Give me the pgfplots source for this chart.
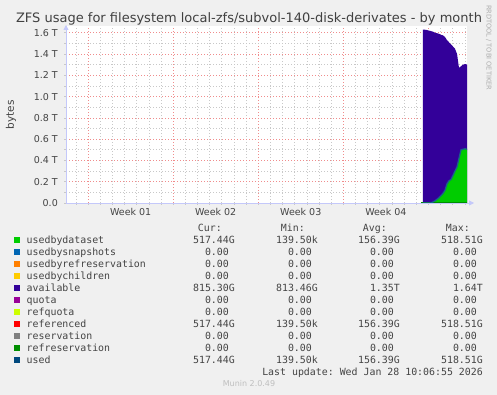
\documentclass[border=0pt]{standalone}
\usepackage{pgfplots}
\pgfplotsset{compat=1.18}
\usepackage{pgfplotstable}
\usepackage{fontspec}
\setmainfont{DejaVu Sans}
\setmonofont{DejaVu Sans Mono}
\usetikzlibrary{arrows.meta}
\definecolor{bgc}{HTML}{F0F0F0}
\definecolor{axc}{HTML}{C4C8FA}
\definecolor{mgrid}{HTML}{F08C8C}
\definecolor{ngrid}{HTML}{C8C8C8}
\definecolor{txt}{HTML}{444444}
\definecolor{cds}{HTML}{00CC00}
\definecolor{csnap}{HTML}{0066B3}
\definecolor{crefres}{HTML}{FF8000}
\definecolor{cchild}{HTML}{FFCC00}
\definecolor{cavail}{HTML}{330099}
\definecolor{cquota}{HTML}{990099}
\definecolor{crefq}{HTML}{CCFF00}
\definecolor{cref}{HTML}{FF0000}
\definecolor{cres}{HTML}{808080}
\definecolor{crefr}{HTML}{008F00}
\definecolor{cused}{HTML}{00487D}
\definecolor{cusedline}{HTML}{1A5E8C}

% day, usedbydataset (T), available (T)
\pgfplotstableread{
day   ds     av
29.37 0.000  1.630
29.54 0.000  1.628
29.70 0.000  1.625
29.87 0.000  1.620
30.03 0.000  1.615
30.20 0.010  1.600
30.36 0.020  1.580
30.53 0.035  1.560
30.69 0.050  1.540
30.86 0.070  1.510
31.02 0.090  1.485
31.19 0.120  1.440
31.35 0.180  1.350
31.52 0.210  1.300
31.68 0.220  1.270
31.85 0.260  1.210
32.01 0.300  1.150
32.18 0.340  1.060
32.34 0.420  0.850
32.51 0.500  0.785
32.67 0.505  0.795
32.84 0.510  0.795
33.00 0.505  0.796
}\zfsdata

\begin{document}
\begin{tikzpicture}[x=1pt,y=1pt]
\fill[bgc] (0,0) rectangle (497,395);
\begin{axis}[
  at={(66pt,192pt)}, anchor=origin,
  scale only axis, width=401pt, height=177pt,
  xmin=0, xmax=33, ymin=0, ymax=1.663,
  axis background/.style={fill=white},
  axis lines*=left,
  axis line style={draw=none},
  tick align=outside,
  major tick length=2pt, minor tick length=2pt,
  tick style={ngrid, line width=0.6pt},
  xtick={1.82,8.82,15.82,22.82,29.82},
  xticklabels={},
  minor xtick={0.82,2.82,3.82,4.82,5.82,6.82,7.82,9.82,10.82,11.82,12.82,13.82,14.82,16.82,17.82,18.82,19.82,20.82,21.82,23.82,24.82,25.82,26.82,27.82,28.82,30.82,31.82,32.82},
  extra x ticks={5.32,12.32,19.32,26.32},
  extra x tick labels={Week 01,Week 02,Week 03,Week 04},
  extra x tick style={grid=none, major tick length=0pt,
     xticklabel style={anchor=north, inner sep=0pt, yshift=-5.5pt}},
  ytick={0,0.2,0.4,0.6,0.8,1.0,1.2,1.4,1.6},
  yticklabels={0.0\hspace{6pt},0.2 T,0.4 T,0.6 T,0.8 T,1.0 T,1.2 T,1.4 T,1.6 T},
  minor ytick={0.1,0.3,0.5,0.7,0.9,1.1,1.3,1.5},
  yticklabel style={anchor=east, inner sep=0pt, xshift=-6pt},
  tick label style={font=\fontsize{9.5}{11}\selectfont, text=txt},
  grid=both,
  major grid style={mgrid, line width=0.6pt, dash pattern=on 1pt off 2pt},
  minor grid style={ngrid, line width=0.6pt, dash pattern=on 1pt off 2pt},
  clip=false,
]
% available stacked on top of usedbydataset (top edge = ds + av)
\addplot[draw=none, fill=cavail] table[x=day, y expr=\thisrow{ds}+\thisrow{av}] {\zfsdata} \closedcycle;
% usedbydataset
\addplot[draw=none, fill=cds] table[x=day, y=ds] {\zfsdata} \closedcycle;
% refreservation (0)
\addplot[crefr, line width=1pt] coordinates {(29.2,0) (33,0)};
% used line
\addplot[cusedline, line width=1.3pt] table[x=day, y=ds] {\zfsdata};
\end{axis}
% axis lines with arrows
\draw[axc, line width=0.8pt, -{Triangle[width=5pt,length=5pt]}] (66,192) -- (474,192);
\draw[axc, line width=0.8pt, -{Triangle[width=5pt,length=5pt]}] (66,192) -- (66,370);
% title
\node[anchor=base, inner sep=0pt, text=black!75, font=\fontsize{13}{15}\selectfont] at (249,372) {ZFS usage for filesystem local-zfs/subvol-140-disk-derivates - by month};
% y label
\node[rotate=90, inner sep=0pt, text=txt, font=\fontsize{10.5}{12}\selectfont] at (11,280) {bytes};
% rrdtool credit
\node[rotate=-90, anchor=west, inner sep=0pt, text=black!32, font=\fontsize{6.6}{8}\selectfont] at (488.7,390) {RRDTOOL / TOBI OETIKER};
% legend
\begin{scope}[font=\ttfamily\fontsize{9.9}{12}\selectfont, text=txt]
\node[anchor=base east, inner sep=0pt] at (222,163.2) {Cur:};
\node[anchor=base east, inner sep=0pt] at (305,163.2) {Min:};
\node[anchor=base east, inner sep=0pt] at (387,163.2) {Avg:};
\node[anchor=base east, inner sep=0pt] at (470,163.2) {Max:};
\foreach \n/\c/\a/\b/\cc/\d [count=\i from 0] in {
  usedbydataset/cds/517.44G/139.50k/156.39G/518.51G,
  usedbysnapshots/csnap/0.00\phantom{G}/0.00\phantom{G}/0.00\phantom{G}/0.00\phantom{G},
  usedbyrefreservation/crefres/0.00\phantom{G}/0.00\phantom{G}/0.00\phantom{G}/0.00\phantom{G},
  usedbychildren/cchild/0.00\phantom{G}/0.00\phantom{G}/0.00\phantom{G}/0.00\phantom{G},
  available/cavail/815.30G/813.46G/1.35T/1.64T,
  quota/cquota/0.00\phantom{G}/0.00\phantom{G}/0.00\phantom{G}/0.00\phantom{G},
  refquota/crefq/0.00\phantom{G}/0.00\phantom{G}/0.00\phantom{G}/0.00\phantom{G},
  referenced/cref/517.44G/139.50k/156.39G/518.51G,
  reservation/cres/0.00\phantom{G}/0.00\phantom{G}/0.00\phantom{G}/0.00\phantom{G},
  refreservation/crefr/0.00\phantom{G}/0.00\phantom{G}/0.00\phantom{G}/0.00\phantom{G},
  used/cused/517.44G/139.50k/156.39G/518.51G}{
  \pgfmathsetmacro{\yy}{151.8-12*\i}
  \fill[\c] (14,\yy+0.3) rectangle (20,\yy+6.3);
  \node[anchor=base west, inner sep=0pt] at (26.5,\yy) {\n};
  \node[anchor=base east, inner sep=0pt] at (235,\yy) {\a};
  \node[anchor=base east, inner sep=0pt] at (318,\yy) {\b};
  \node[anchor=base east, inner sep=0pt] at (400,\yy) {\cc};
  \node[anchor=base east, inner sep=0pt] at (483,\yy) {\d};
}
\node[anchor=base east, inner sep=0pt] at (483,19.8) {Last update: Wed Jan 28 10:06:55 2026};
\end{scope}
\node[anchor=base, inner sep=0pt, text=black!25, font=\fontsize{8}{10}\selectfont] at (249,8.7) {Munin 2.0.49};
\end{tikzpicture}
\end{document}
